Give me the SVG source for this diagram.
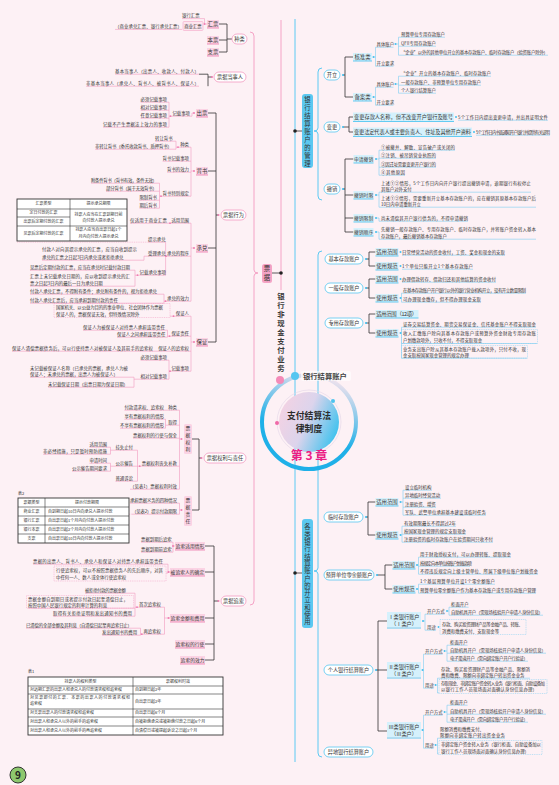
<svg xmlns="http://www.w3.org/2000/svg" width="559" height="785" viewBox="0 0 559 785">
<defs>
<style>
text{font-family:"Noto Sans CJK SC","Noto Sans",sans-serif;fill:#333}
.s{font-size:4.4px}
.m{font-size:4.8px}
.b{font-size:5.2px}
.n{font-size:5.4px}
.t{font-size:4px}
.c{text-anchor:middle}
.vt{writing-mode:vertical-rl}
.pk{fill:none;stroke:#f29ac0;stroke-width:.6}
.bl{fill:none;stroke:#7ccff2;stroke-width:.6}
.k{fill:none;stroke:#333;stroke-width:.8}
.pb{fill:#fff;stroke:#f29ac0;stroke-width:.8}
.pf{fill:#fbd3e4}
.bb{fill:#fff;stroke:#55c6f0;stroke-width:.8}
.bf{fill:#d5f1fc}
.pu{fill:none;stroke:#ee86b4;stroke-width:.9}
.bu{fill:none;stroke:#55c6f0;stroke-width:.9}
.pd{fill:#f07fb3}
.bd{fill:#45c0ee}
.kd{fill:#222}
.dp{fill:none;stroke:#f29ac0;stroke-width:.5;stroke-dasharray:1 .8}
.db{fill:none;stroke:#7ccff2;stroke-width:.5;stroke-dasharray:1 .8}
.tb{fill:#fff;stroke:#333;stroke-width:.9}
.tl{fill:none;stroke:#333;stroke-width:.6}
.v{font-size:7.4px;font-weight:bold;fill:#3a3a3a}
.w{font-size:6.4px;fill:#333}
</style>
<linearGradient id="ring" x1="0.6" y1="0" x2="0.4" y2="0.6">
<stop offset="0" stop-color="#ede1ed"/><stop offset="1" stop-color="#1fb0e8"/>
</linearGradient>
<linearGradient id="core" x1="0" y1="0.3" x2="1" y2="0.7">
<stop offset="0" stop-color="#f3d2e3"/><stop offset="0.45" stop-color="#dcd4ec"/><stop offset="1" stop-color="#38c1ee"/>
</linearGradient>
</defs>
<rect width="559" height="785" fill="#fdf1f5"/>

<g id="connectors">
<path d="M281,20 V290" fill="none" stroke="#f5a3c6" stroke-width="1"/>
<path d="M295,19 V762" fill="none" stroke="#5ccaf3" stroke-width="1"/>
<path d="M250,32 Q254,32 254,36 V270 Q254,273 258,273 Q254,273 254,276 V601 Q254,605 250,605" fill="none" stroke="#f5a3c6" stroke-width="1"/>
<path d="M322,68 Q318,68 318,72 V128 Q318,131 314,131 Q318,131 318,134 V196 Q318,200 322,200" fill="none" stroke="#5ccaf3" stroke-width="1"/>
<path d="M322,251 Q318,251 318,255 V568 Q318,571 314,571 Q318,571 318,574 V753 Q318,757 322,757" fill="none" stroke="#5ccaf3" stroke-width="1"/>
<path class="k" d="M272,273 H281 M295,131 H302 M295,573 H302"/>
<circle class="kd" cx="281" cy="273" r="1.8"/>
<circle class="kd" cx="295" cy="131" r="1.8"/>
<circle class="kd" cx="295" cy="573" r="1.8"/>
<path class="k" d="M219,24 H227 V52 H219 M219,40 H227 M227,39 H232 M199,74.2 H208 V86.2 M208,77 H212 M208,113 H216 V342 H208 M208,171 H216 M208,248 H216 M216,215 H218.5 M192,439 H199 V510 H192 M199,458 H201.5 M205,546 H214 V660 H205 M205,572 H214 M205,618 H214 M205,644 H214 M214,601 H218.5"/>
<path class="k" d="M343,75 H345 M354,57 H345 V97 H354 M343,127 H349 M353,117 H349 V132 H353 M343,189 H345 M353.5,159 H345 V232 H353.5 M345,195 H353.5 M345,218 H353.5 M366,259 H369 M375.5,252 H369 V266 H375.5 M366,288 H369 M375.5,279 H369 V298 H375.5 M366,323 H369 M375.5,314 H369 V333 H375.5 M366,517 H368 M375.5,502 H368 V535 H375.5 M377,575 H385 M392.5,565 H385 V589 H392.5 M376,670 H378 M387,621 H378 V731 H387 M378,670 H387"/>
<path class="pk" d="M182,18.6 H199 M115,29.4 H182 M199,18.6 H204.5 V24 H207 M115,74.2 H199 M86,86.2 H199 M172.4,116.2 H192 V113 H194 M140.6,102.2 H169 V127.2 H103 M140.6,110.2 H169 M140.6,118.2 H169 M169,116.2 H172.4 M180.2,147.2 H191 M162.6,161.2 H191 M167,172.2 H191 M162.6,196.2 H191 M191,147.2 V196.2 M191,171 H194 M155,141.2 H176 V149.2 H95 M176,147.2 H180.2 M91,183.2 H159.5 V208.2 H139.4 M106,191.2 H159.5 M139.4,200.2 H159.5 M159.5,196.2 H162.6 M171.4,223.2 H191 V301.2 H167 M167,256.2 H191 M191,248 H194 M130,223.2 H171.4 M148,242.2 H165.6 V275.2 H139.6 M148,256.2 H167 M42,260.2 H144 V256.2 H148 M30,270.2 H135 V286.2 H30 M135,275.2 H139.6 M30,294.2 H164 V303.2 H30 M164,301.2 H167 M175.8,316.2 H191 V371.2 H171.4 M171.4,336.2 H191 M158.2,351.2 H191 M191,342 H194 M170,316.2 H175.8 M83,330.2 H167.5 V337.2 H117 M167.5,336.2 H171.4 M12,351.2 H158.2 M140.6,360.2 H169 V379.2 H140.6 M169,371.2 H171.4 M30,377.2 H134 V387.2 H48 M134,379.2 H140.6 M168.2,410.2 H179.5 V489.2 H130 M168.2,425.2 H179.5 M133,438.2 H179.5 M141.8,466.2 H179.5 M179.5,439 H181.5 M124.4,410.2 H168.2 M124.4,419.2 H165.5 V428.2 H120 M165.5,425.2 H168.2 M115.4,450.2 H137.5 V481.2 H115.4 M115.4,466.2 H141.8 M89.4,447.2 H110.5 V454.2 H43 M110.5,450.2 H115.4 M89.4,463.2 H110.5 V471.2 H72 M110.5,466.2 H115.4 M130,503.2 H179.5 V514.2 H132 M179.5,510 H181.5 M141,542.2 H173 V552.2 H141 M173,546 H175 M33,564.2 H168 V573 H166 M168,572 H170.4 M139,607.2 H164.5 V634.2 H143.4 M164.5,618 H170.4 M85,593.2 H135 V616.2 H53 M28,608.2 H135 M135,607.2 H139 M26,628.2 H140.5 V635.2 H102 M140.5,634.2 H143.4"/>
<path class="dp" d="M17,242.2 H148 M129,514.2 H132"/>
<path class="bl" d="M393.5,47.2 H375.5 V66.2 H393.5 M373.5,57 H375.5 M445,37.2 H398.5 V55.2 H548 M398.5,46.2 H436 M395.5,44 H398.5 M393.5,87.2 H375.5 V105.2 H393.5 M373.5,97 H375.5 M491,76.2 H398.5 V93.2 H436 M398.5,85.2 H481 M395.5,84 H398.5 M458,120.2 H548 M476,135.2 H550 M455,150.2 H379 V175.2 H405 M379,158.2 H436 M379,167.2 H436 M376,159 H379 M531,192.2 H379 V207.2 H536 M376,195 H379 M379,221.2 H468 M376,218 H379 V221.2 M379,239.2 H536 M376,232 H379 V239.2 M402,255.2 H505 M402,269.2 H473 M402,282.2 H496 M526,293.2 H401.5 V302.2 H481 M400.5,298 H401.5 M536,327.2 H401.5 V358.2 H527 M401.5,343.5 H537 M400.5,333 H401.5 M432,490.2 H403 V515.2 H486 M403,498.2 H441 M403,507.2 H436 M400.5,502 H403 M456,526.2 H402 V542.2 H493 M402,534.2 H466 M400.5,535 H402 M511,557.2 H418.5 V574.2 H538 M418.5,566.2 H470 M417,565 H418.5 M495,584.2 H418.5 V593.2 H536 M417,589 H418.5 M444.6,614.2 H425 V630.2 H436 M423,621 H425 M468.6,607.2 H449 V615.2 H543 M447,611 H449 M442.6,654.2 H423.5 V688.2 H433.8 M422.5,670 H423.5 M467.6,645.2 H447 V661.2 H528 M447,653.2 H546 M444.5,651 H447 M530,678.2 H437.5 V693 H439 M437.5,685 H435.5 M442.6,715.2 H423.5 V748.2 H433.8 M422.5,730 H423.5 M467.6,705.2 H447 V722.2 H528 M447,714.2 H546 M444.5,712 H447 M505,738.2 H437.5 V754 H439 M437.5,745 H435.5"/>
</g>

<g id="center">
<circle cx="309" cy="422" r="47" fill="none" stroke="url(#ring)" stroke-width="4"/>
<circle cx="309" cy="422" r="32" fill="none" stroke="#e2d5e8" stroke-width=".6"/>
<circle cx="309" cy="422" r="30" fill="url(#core)"/>
<circle cx="277" cy="423" r="2" fill="#f06aa8"/>
<circle cx="333" cy="401" r="2" fill="#4cc3ee"/>
<text x="309" y="419" class="c" style="font-size:8.8px;font-weight:bold;fill:#2b2b2b">支付结算法<tspan x="309" dy="12.8">律制度</tspan></text>
<text x="309" y="460" class="c" style="font-size:12px;font-weight:bold;fill:#ec1c84">第 3 章</text>
<circle cx="280" cy="380" r="4" fill="#f48ab8"/>
<circle cx="295" cy="376" r="4" fill="#55c6f0"/>
<rect x="301" y="371" width="50" height="10" rx="2" fill="#fff" opacity=".6"/>
<text x="303" y="378.6" style="font-size:7.3px;font-weight:bold;fill:#444">银行结算账户</text>
</g>

<g id="n-feixianjin">
<text class="v vt" x="281" y="292.3" style="letter-spacing:1.6px">银行非现金支付业务</text>
</g>
<g id="n-piaoju">
<rect x="262" y="264" width="10" height="19" rx="2.5" fill="#f5a3c5"/>
<text class="w vt" x="267" y="265.8" style="letter-spacing:2.6px">票据</text>
</g>
<g id="n-guanli">
<rect x="302" y="94" width="11" height="74" rx="3" fill="#5cc8f0"/>
<text class="w vt" x="307.5" y="96.8" style="letter-spacing:1.6px">银行结算账户的管理</text>
</g>
<g id="n-kaili-shiyong">
<rect x="302" y="519" width="11" height="109" rx="3" fill="#5cc8f0"/>
<text class="w vt" x="307.5" y="523.8" style="letter-spacing:0.9px">各类银行结算账户的开立和使用</text>
</g>

<g id="n-zhonglei">
<rect class="pb" x="232" y="34" width="15" height="10" rx="5"/>
<text class="b c" x="239.5" y="40.9">种类</text>
<rect class="pf" x="207" y="20" width="12" height="8"/><path class="pu" d="M207,28 H219"/><text class="n" x="207.6" y="25.9">汇票</text>
<rect class="pf" x="207" y="36" width="12" height="8"/><path class="pu" d="M207,44 H219"/><text class="n" x="207.6" y="41.9">本票</text>
<rect class="pf" x="207" y="48" width="12" height="8"/><path class="pu" d="M207,56 H219"/><text class="n" x="207.6" y="53.9">支票</text>
<circle class="pd" cx="204.5" cy="24" r="1"/>
<text class="s" x="182" y="16.6">银行汇票</text>
<text class="s" x="115" y="27.6" textLength="67">（商业承兑汇票、银行承兑汇票）</text>
<rect x="183" y="21.5" width="20" height="9" rx="1" fill="#fde6ef" stroke="#f29ac0" stroke-width=".5"/>
<text class="s" x="184.2" y="27.6">商业汇票</text>
</g>

<g id="n-dangshiren">
<rect class="pb" x="214" y="72" width="32" height="10" rx="5"/>
<text class="b c" x="230" y="78.9">票据当事人</text>
<circle class="pd" cx="212" cy="77" r="1"/>
<text class="s" x="115" y="72.6" textLength="84">基本当事人（出票人、收款人、付款人）</text>
<text class="s" x="86" y="84.6" textLength="113">非基本当事人（承兑人、背书人、被背书人、保证人）</text>
</g>

<g id="n-xingwei">
<rect class="pb" x="221" y="210" width="25" height="10" rx="5"/>
<text class="b c" x="233.5" y="216.9">票据行为</text>
<circle class="pd" cx="218.5" cy="215" r="1"/>
<rect class="pf" x="196" y="109" width="12" height="8"/><path class="pu" d="M196,117 H208"/><text class="n" x="196.6" y="114.9">出票</text>
<rect class="pf" x="196" y="167" width="12" height="8"/><path class="pu" d="M196,175 H208"/><text class="n" x="196.6" y="172.9">背书</text>
<rect class="pf" x="196" y="244" width="12" height="8"/><path class="pu" d="M196,252 H208"/><text class="n" x="196.6" y="249.9">承兑</text>
<rect class="pf" x="196" y="338" width="12" height="8"/><path class="pu" d="M196,346 H208"/><text class="n" x="196.6" y="343.9">保证</text>
<circle class="pd" cx="194" cy="113" r="1"/><circle class="pd" cx="194" cy="171" r="1"/><circle class="pd" cx="194" cy="248" r="1"/><circle class="pd" cx="194" cy="342" r="1"/>
</g>

<g id="leaf-chupiao">
<text class="s" x="172.4" y="114.6">记载事项</text>
<circle class="pd" cx="170.5" cy="116.2" r=".9"/>
<text class="s" x="140.6" y="100.6">必须记载事项</text>
<text class="s" x="140.6" y="108.6">相对记载事项</text>
<text class="s" x="140.6" y="116.6">任意记载事项</text>
<text class="s" x="103" y="125.6" textLength="64">记载不产生票据法上效力的事项</text>
</g>

<g id="leaf-beishu">
<text class="s" x="180.2" y="145.6">种类</text>
<text class="s" x="162.6" y="159.6">背书记载事项</text>
<text class="s" x="167" y="170.6">背书的效力</text>
<text class="s" x="162.6" y="194.6">背书特别规定</text>
<circle class="pd" cx="178" cy="147.2" r=".9"/><circle class="pd" cx="161" cy="196.2" r=".9"/>
<text class="s" x="155" y="139.6">转让背书</text>
<text class="s" x="95" y="147.6" textLength="77">非转让背书（委托收款背书、质押背书）</text>
<text class="s" x="91" y="181.6" textLength="66">附条件背书（背书有效，条件无效）</text>
<text class="s" x="106" y="189.6" textLength="51">部分背书（属于无效背书）</text>
<text class="s" x="139.4" y="198.6">限制背书</text>
<text class="s" x="139.4" y="206.6">期后背书</text>
</g>

<g id="table-chengdui">
<rect class="tb" x="17" y="199" width="110" height="42"/>
<path class="tl" d="M70,199 V241 M17,209 H127 M17,217 H70 M17,226 H127"/>
<text class="t c" x="43.5" y="205.4">汇票类型</text>
<text class="t c" x="98.5" y="205.4">提示承兑期限</text>
<text class="t c" x="43.5" y="214.4">定日付款的汇票</text>
<text class="t c" x="43.5" y="222.9">出票后定期付款的汇票</text>
<text class="t c" x="98.5" y="216">持票人应当在汇票到期日前<tspan x="98.5" dy="6">向付款人提示承兑</tspan></text>
<text class="t c" x="43.5" y="234.9">见票后定期付款的汇票</text>
<text class="t c" x="98.5" y="231.4">持票人应当自出票日起1个<tspan x="98.5" dy="6.6">月内向付款人提示承兑</tspan></text>
</g>

<g id="leaf-chengdui">
<text class="s" x="171.4" y="221.6">适用范围</text>
<text class="s" x="167" y="254.6">承兑的程序</text>
<text class="s" x="167" y="299.6">承兑的效力</text>
<circle class="pd" cx="170" cy="223.2" r=".9"/><circle class="pd" cx="166" cy="256.2" r=".9"/><circle class="pd" cx="165.5" cy="301.2" r=".9"/>
<text class="s" x="130" y="221.6" textLength="37">仅适用于商业汇票</text>
<text class="s" x="148" y="240.6">提示承兑</text>
<text class="s" x="148" y="254.6">受理承兑</text>
<text class="s" x="139.6" y="273.6">记载承兑事项</text>
<circle class="pd" cx="137.5" cy="275.2" r=".9"/>
<text class="s" x="42" y="250.6"><tspan textLength="95">付款人对向其提示承兑的汇票，应当自收到提示</tspan><tspan x="42" dy="8">承兑的汇票之日起3日内承兑或者拒绝承兑</tspan></text>
<text class="s" x="30" y="268.6" textLength="100">见票后定期付款的汇票，应当在承兑时记载付款日期</text>
<text class="s" x="30" y="277.6"><tspan textLength="100">汇票上未记载承兑日期的，应以收到提示承兑的汇</tspan><tspan x="30" dy="7">票之日起3日内的最后一日为承兑日期</tspan></text>
<text class="s" x="30" y="292.6" textLength="127">付款人承兑汇票，不得附有条件；承兑附有条件的，视为拒绝承兑</text>
<text class="s" x="30" y="301.6">付款人承兑汇票后，应当承担到期付款的责任</text>
</g>

<g id="leaf-baozheng">
<text class="s" x="175.8" y="314.6">保证人</text>
<text class="s" x="171.4" y="334.6">保证责任</text>
<text class="s" x="158.2" y="349.6">保证人的追索权</text>
<text class="s" x="171.4" y="369.6">记载事项</text>
<circle class="pd" cx="173.5" cy="316.2" r=".9"/><circle class="pd" cx="169.5" cy="336.2" r=".9"/><circle class="pd" cx="170" cy="371.2" r=".9"/>
<rect class="dp" x="54" y="303.5" width="116" height="14"/>
<text class="s" x="56" y="309.1"><tspan textLength="107">国家机关、以公益为目的的事业单位、社会团体作为票据</tspan><tspan x="56" dy="6.5">保证人的，票据保证无效，但特殊情况除外</tspan></text>
<text class="s" x="83" y="328.6" textLength="82">保证人为被保证人对持票人承担连带责任</text>
<text class="s" x="117" y="335.6">保证人之间承担连带责任</text>
<text class="s" x="12" y="349.6" textLength="141">保证人清偿票据债务后，可以行使持票人对被保证人及其前手的追索权</text>
<text class="s" x="140.6" y="358.6">必须记载事项</text>
<text class="s" x="140.6" y="377.6">相对记载事项</text>
<text class="s" x="30" y="369.6"><tspan textLength="98">未记载被保证人名称（已承兑的票据，承兑人为被</tspan><tspan x="30" dy="6">保证人；未承兑的票据，出票人为被保证人）</tspan></text>
<text class="s" x="48" y="385.6" textLength="80">未记载保证日期（出票日期为保证日期）</text>
</g>

<g id="n-quanli-zeren">
<rect class="pb" x="204" y="453" width="42" height="10" rx="5"/>
<text class="b c" x="225" y="459.9">票据权利与责任</text>
<circle class="pd" cx="201.5" cy="458" r="1"/>
<rect class="pf" x="184" y="424" width="8" height="30" rx="1.5"/>
<text class="m vt" x="188" y="425.6" style="letter-spacing:2.2px">票据权利</text>
<rect class="pf" x="184" y="496" width="8" height="30" rx="1.5"/>
<text class="m vt" x="188" y="497.6" style="letter-spacing:2.2px">票据责任</text>
<circle class="pd" cx="181.5" cy="439" r="1"/><circle class="pd" cx="181.5" cy="510" r="1"/>
</g>

<g id="leaf-quanli">
<text class="s" x="168.2" y="408.6">种类</text>
<text class="s" x="168.2" y="423.6">取得</text>
<text class="s" x="133" y="436.6">票据权利的行使与保全</text>
<text class="s" x="141.8" y="464.6">票据权利丧失补救</text>
<text class="s" x="130" y="487.6" textLength="47">（见表1）票据权利时效</text>
<circle class="pd" cx="139.7" cy="466.2" r=".9"/>
<text class="s" x="124.4" y="408.6">付款请求权、追索权</text>
<text class="s" x="124.4" y="417.6">享有票据权利的情形</text>
<text class="s" x="120" y="426.6">不享有票据权利的情形</text>
<text class="s" x="115.4" y="448.6">挂失止付</text>
<text class="s" x="115.4" y="464.6">公示催告</text>
<text class="s" x="115.4" y="479.6">普通诉讼</text>
<text class="s" x="89.4" y="445.6">适用范围</text>
<text class="s" x="43" y="452.6" textLength="64">非必经措施，只是暂时预防措施</text>
<text class="s" x="89.4" y="461.6">申请时间</text>
<text class="s" x="72" y="469.6">公示催告期间要求</text>
</g>

<g id="leaf-zeren">
<text class="s" x="130" y="501.6" textLength="47">承担票据义务的四种情况</text>
<text class="s" x="132" y="512.6" textLength="45">（见表2）提示付款期限</text>
</g>

<g id="table-2">
<text class="t" x="18" y="495.4">表2</text>
<rect class="tb" x="18" y="498" width="111" height="45"/>
<path class="tl" d="M45,498 V543 M18,507 H129 M18,516 H129 M18,525 H129 M18,534 H129"/>
<text class="t c" x="31.5" y="503.9">票据类型</text>
<text class="t c" x="87" y="503.9">提示付款期限</text>
<text class="t c" x="31.5" y="512.9">商业汇票</text>
<text class="t c" x="31.5" y="521.9">银行汇票</text>
<text class="t c" x="31.5" y="530.9">银行本票</text>
<text class="t c" x="31.5" y="539.9">支票</text>
<text class="t" x="48" y="512.9">自到期日起10日内向承兑人提示付款</text>
<text class="t" x="48" y="521.9">自出票日起1个月内向付款人提示付款</text>
<text class="t" x="48" y="530.9">自出票日起2个月内向付款人提示付款</text>
<text class="t" x="48" y="539.9">自出票日起10日内向付款人提示付款</text>
</g>

<g id="n-zhuisuo">
<rect class="pb" x="221" y="596" width="25" height="10" rx="5"/>
<text class="b c" x="233.5" y="602.9">票据追索</text>
<circle class="pd" cx="218.5" cy="601" r="1"/>
<rect class="pf" x="175" y="542" width="30" height="8"/><path class="pu" d="M175,550 H205"/><text class="m" x="175.6" y="547.7">追索适用情形</text>
<rect class="pf" x="170" y="568" width="35" height="8"/><path class="pu" d="M170,576 H205"/><text class="m" x="170.6" y="573.7">被追索人的确定</text>
<rect class="pf" x="170" y="614" width="35" height="8"/><path class="pu" d="M170,622 H205"/><text class="m" x="170.6" y="619.7">追索金额和费用</text>
<rect class="pf" x="175" y="640" width="30" height="8"/><path class="pu" d="M175,648 H205"/><text class="m" x="175.6" y="645.7">追索权的行使</text>
<rect class="pf" x="180" y="656" width="25" height="8"/><path class="pu" d="M180,664 H205"/><text class="m" x="180.6" y="661.7">追索的效力</text>
<circle class="pd" cx="173" cy="546" r="1"/><circle class="pd" cx="168.5" cy="572" r="1"/><circle class="pd" cx="168.5" cy="618" r="1"/>
</g>

<g id="leaf-zhuisuo">
<text class="s" x="141" y="540.6">票据到期后追索</text>
<text class="s" x="141" y="550.6">票据到期前追索</text>
<text class="s" x="33" y="562.6" textLength="130">票据的出票人、背书人、承兑人和保证人对持票人承担连带责任</text>
<rect class="dp" x="54" y="566" width="112" height="15"/>
<text class="s" x="56" y="571.6"><tspan textLength="107">行使追索权，可以不按照票据债务人的先后顺序，对其</tspan><tspan x="56" dy="7">中任何一人、数人或全体行使追索权</tspan></text>
<text class="s" x="139" y="605.6">首次追索权</text>
<text class="s" x="143.4" y="632.6">再追索权</text>
<circle class="pd" cx="137" cy="607.2" r=".9"/><circle class="pd" cx="141.8" cy="634.2" r=".9"/>
<text class="s" x="85" y="591.6" textLength="41">被拒绝付款的票据金额</text>
<rect class="dp" x="26.5" y="595.5" width="107" height="12.7"/>
<text class="s" x="28" y="600.6"><tspan textLength="100">票据金额自到期日或者提示付款日起至清偿日止，</tspan><tspan x="28" dy="6">按照中国人民银行规定的利率计算的利息</tspan></text>
<text class="s" x="53" y="614.6" textLength="79">取得有关拒绝证明和发出通知书的费用</text>
<text class="s" x="26" y="626.6" textLength="106">已清偿的全部金额及其利息（自清偿日起至再追索日止）</text>
<text class="s" x="102" y="633.6">发出通知书的费用</text>
</g>

<g id="table-1">
<text class="t" x="28" y="673.4">表1</text>
<rect class="tb" x="28" y="677" width="195" height="58"/>
<path class="tl" d="M133,677 V735 M28,686 H223 M28,694 H223 M28,709 H223 M28,717 H223 M28,726 H223"/>
<text class="t c" x="80.5" y="683">持票人的权利类型</text>
<text class="t c" x="178" y="683">票据权利时效</text>
<text class="t" x="30" y="691.4">对远期汇票的出票人和承兑人的付款请求权和追索权</text>
<text class="t" x="30" y="699.4"><tspan textLength="100">对见票即付的汇票、本票的出票人的付款请求权和</tspan><tspan x="30" dy="6">追索权</tspan></text>
<text class="t" x="30" y="714.4">对支票出票人的付款请求权和追索权</text>
<text class="t" x="30" y="722.9">对出票人和承兑人以外的前手的追索权</text>
<text class="t" x="30" y="731.9">对出票人和承兑人以外的前手的再追索权</text>
<text class="t" x="135" y="691.4">自到期日起2年</text>
<text class="t" x="135" y="702.9">自出票日起2年</text>
<text class="t" x="135" y="714.4">自出票日起6个月</text>
<text class="t" x="135" y="722.9">自被拒绝承兑或被拒绝付款之日起6个月</text>
<text class="t" x="135" y="731.9">自清偿日或被提起诉讼之日起3个月</text>
</g>

<g id="page-badge">
<circle cx="18" cy="775" r="8" fill="#8dc86e" stroke="#333" stroke-width="1"/>
<text x="18" y="778.6" class="c" style="font-size:10px;font-weight:bold;fill:#222">9</text>
</g>

<g id="n-kaili">
<rect class="bb" x="324" y="70" width="16" height="10" rx="5"/>
<text class="b c" x="332" y="76.8">开立</text>
<circle class="bd" cx="343" cy="75" r="1.1"/>
<rect class="bf" x="353" y="53" width="19" height="8"/><path class="bu" d="M353,61 H372"/><text class="n" x="354.4" y="58.9">核准类</text>
<rect class="bf" x="353" y="93" width="19" height="8"/><path class="bu" d="M353,101 H372"/><text class="n" x="354.4" y="98.9">备案类</text>
<circle class="bd" cx="373.5" cy="57" r="1"/><circle class="bd" cx="373.5" cy="97" r="1"/>
<circle class="bd" cx="395.5" cy="44" r="1"/><circle class="bd" cx="395.5" cy="84" r="1"/>
<text class="s" x="376.5" y="45.6">具体账户</text>
<text class="s" x="376.5" y="64.6">开立要求</text>
<text class="s" x="401" y="35.6" textLength="44">预算单位专用存款账户</text>
<text class="s" x="401" y="44.6" textLength="35">QFII专用存款账户</text>
<text class="s" x="401" y="53.6" textLength="147">“企业”以外的其他单位开立的基本存款账户、临时存款账户（验资账户除外）</text>
<text class="s" x="376.5" y="85.6">具体账户</text>
<text class="s" x="376.5" y="103.6">开立要求</text>
<text class="s" x="401" y="74.6" textLength="90">“企业”开立的基本存款账户、临时存款账户</text>
<text class="s" x="401" y="83.6" textLength="80">一般存款账户、非预算单位专用存款账户</text>
<text class="s" x="401" y="91.6" textLength="35">个人银行结算账户</text>
</g>

<g id="n-biangeng">
<rect class="bb" x="324" y="122" width="16" height="10" rx="5"/>
<text class="b c" x="332" y="128.8">变更</text>
<circle class="bd" cx="343" cy="127" r="1.1"/>
<rect class="bf" x="353" y="112.5" width="101" height="9"/><path class="bu" d="M353,121.5 H454"/>
<text class="b" x="354" y="118.9" textLength="99">变更存款人名称，但不改变开户银行及账号</text>
<rect class="bf" x="353" y="127.5" width="119" height="9"/><path class="bu" d="M353,136.5 H472"/>
<text class="b" x="354" y="133.9" textLength="117">变更法定代表人或主要负责人、住址及其他开户资料</text>
<circle class="bd" cx="456" cy="117" r="1"/><circle class="bd" cx="474" cy="132" r="1"/>
<text class="s" x="458" y="118.6" textLength="90">5个工作日内提出变更申请，并出具证明文件</text>
<text class="s" x="476" y="133.6" textLength="74">5个工作日内书面通知开户银行并提供有关证明</text>
</g>

<g id="n-chexiao">
<rect class="bb" x="324" y="184" width="16" height="10" rx="5"/>
<text class="b c" x="332" y="190.8">撤销</text>
<circle class="bd" cx="343" cy="189" r="1.1"/>
<rect class="bf" x="353.5" y="155" width="20" height="8"/><path class="bu" d="M353.5,163 H373.5"/><text class="m" x="354" y="160.7">申请撤销</text>
<rect class="bf" x="353.5" y="191" width="20" height="8"/><path class="bu" d="M353.5,199 H373.5"/><text class="m" x="354" y="196.7">撤销时限</text>
<rect class="bf" x="353.5" y="214" width="20" height="8"/><path class="bu" d="M353.5,222 H373.5"/><text class="m" x="354" y="219.7">撤销限制</text>
<rect class="bf" x="353.5" y="228" width="20" height="8"/><path class="bu" d="M353.5,236 H373.5"/><text class="m" x="354" y="233.7">撤销顺序</text>
<circle class="bd" cx="376" cy="159" r="1"/><circle class="bd" cx="376" cy="195" r="1"/><circle class="bd" cx="376" cy="218" r="1"/><circle class="bd" cx="376" cy="232" r="1"/>
<text class="s" x="381" y="148.6" textLength="74">①被撤并、解散、宣告破产或关闭的</text>
<text class="s" x="381" y="156.6" textLength="55">②注销、被吊销营业执照的</text>
<text class="s" x="381" y="165.6" textLength="55">③因迁址需要变更开户银行的</text>
<text class="s" x="381" y="173.6" textLength="24">④其他原因</text>
<text class="s" x="381" y="184.6"><tspan textLength="150">上述①②情形，5个工作日内向开户银行提出撤销申请，逾期银行有权停止</tspan><tspan x="381" dy="6">其账户对外支付</tspan></text>
<text class="s" x="381" y="199.6"><tspan textLength="155">上述①②情形，需要重新开立基本存款账户的，应在撤销其原基本存款账户后</tspan><tspan x="381" dy="6">10日内申请重新开立</tspan></text>
<text class="s" x="381" y="219.6" textLength="87">尚未清偿其开户银行债务的，不得申请撤销</text>
<text class="s" x="381" y="230.6"><tspan textLength="155">先撤销一般存款账户、专用存款账户、临时存款账户，并将账户资金转入基本</tspan><tspan x="381" dy="7">存款账户，最后撤销基本存款账户</tspan></text>
</g>

<g id="n-jiben">
<rect class="bb" x="325" y="254" width="38" height="10" rx="5"/>
<text class="b c" x="344" y="260.8">基本存款账户</text>
<circle class="bd" cx="366" cy="259" r="1.1"/>
<rect class="bf" x="375.5" y="248" width="23" height="8"/><path class="bu" d="M375.5,256 H398.5"/><text class="n" x="376.2" y="253.9">适用范围</text>
<rect class="bf" x="375.5" y="262" width="23" height="8"/><path class="bu" d="M375.5,270 H398.5"/><text class="n" x="376.2" y="267.9">使用规范</text>
<circle class="bd" cx="400.5" cy="252" r="1"/><circle class="bd" cx="400.5" cy="266" r="1"/>
<text class="s" x="402" y="253.6" textLength="103">日常经营活动的资金收付，工资、奖金和现金的支取</text>
<text class="s" x="402" y="267.6" textLength="71">1个单位只能开立1个基本存款账户</text>
</g>

<g id="n-yiban">
<rect class="bb" x="325" y="283" width="38" height="10" rx="5"/>
<text class="b c" x="344" y="289.8">一般存款账户</text>
<circle class="bd" cx="366" cy="288" r="1.1"/>
<rect class="bf" x="375.5" y="275" width="23" height="8"/><path class="bu" d="M375.5,283 H398.5"/><text class="n" x="376.2" y="280.9">适用范围</text>
<rect class="bf" x="375.5" y="294" width="23" height="8"/><path class="bu" d="M375.5,302 H398.5"/><text class="n" x="376.2" y="299.9">使用规范</text>
<circle class="bd" cx="400.5" cy="279" r="1"/><circle class="bd" cx="400.5" cy="298" r="1"/>
<text class="s" x="402" y="280.6" textLength="94">办理借款转存、借款归还和其他结算的资金收付</text>
<text class="s" x="403" y="291.6" textLength="123">在基本存款账户开户银行以外的银行营业机构开立，没有开立数量限制</text>
<text class="s" x="403" y="300.6" textLength="78">可办理现金缴存，但不得办理现金支取</text>
</g>

<g id="n-zhuanyong">
<rect class="bb" x="325" y="318" width="38" height="10" rx="5"/>
<text class="b c" x="344" y="324.8">专用存款账户</text>
<circle class="bd" cx="366" cy="323" r="1.1"/>
<rect class="bf" x="375.5" y="310" width="43" height="8"/><path class="bu" d="M375.5,318 H418.5"/><text class="n" x="376.2" y="315.9" textLength="41">适用范围（12项）</text>
<rect class="bf" x="375.5" y="329" width="23" height="8"/><path class="bu" d="M375.5,337 H398.5"/><text class="n" x="376.2" y="334.9">使用规范</text>
<circle class="bd" cx="400.5" cy="333" r="1"/>
<text class="s" x="403" y="325.6" textLength="133">证券交易结算资金、期货交易保证金、信托基金账户不得支取现金</text>
<rect class="db" x="401.5" y="329.5" width="136" height="14"/>
<text class="s" x="403" y="334.6"><tspan textLength="133">收入汇缴账户除向其基本存款账户或预算外资金财政专用存款账</tspan><tspan x="403" dy="7">户划缴款项外，只收不付，不得支取现金</tspan></text>
<rect class="db" x="401.5" y="345.5" width="126" height="12.7"/>
<text class="s" x="403" y="350.6"><tspan textLength="123">业务支出账户除从其基本存款账户拨入款项外，只付不收，现</tspan><tspan x="403" dy="6">金支取按国家现金管理的规定办理</tspan></text>
</g>

<g id="n-linshi">
<rect class="bb" x="324" y="512" width="39" height="10" rx="5"/>
<text class="b c" x="343.5" y="518.8">临时存款账户</text>
<circle class="bd" cx="366" cy="517" r="1.1"/>
<rect class="bf" x="375.5" y="498" width="23" height="8"/><path class="bu" d="M375.5,506 H398.5"/><text class="n" x="376.2" y="503.9">适用范围</text>
<rect class="bf" x="375.5" y="531" width="23" height="8"/><path class="bu" d="M375.5,539 H398.5"/><text class="n" x="376.2" y="536.9">使用规范</text>
<circle class="bd" cx="400.5" cy="502" r="1"/><circle class="bd" cx="400.5" cy="535" r="1"/>
<text class="s" x="405" y="488.6">设立临时机构</text>
<text class="s" x="405" y="496.6">异地临时经营活动</text>
<text class="s" x="405" y="505.6">注册验资、增资</text>
<text class="s" x="405" y="513.6" textLength="81">军队、武警单位承担基本建设或临时任务</text>
<text class="s" x="404" y="524.6" textLength="52">有效期限最长不得超过2年</text>
<text class="s" x="404" y="532.6" textLength="62">按国家现金管理的规定支取现金</text>
<text class="s" x="404" y="540.6" textLength="89">注册验资的临时存款账户在验资期间只收不付</text>
</g>

<g id="n-lingyue">
<rect class="bb" x="324" y="570" width="50" height="10" rx="5"/>
<text class="b c" x="349" y="576.8">预算单位零余额账户</text>
<circle class="bd" cx="377" cy="575" r="1.1"/>
<rect class="bf" x="392.5" y="561" width="23" height="8"/><path class="bu" d="M392.5,569 H415.5"/><text class="n" x="393.2" y="566.9">适用范围</text>
<rect class="bf" x="392.5" y="585" width="23" height="8"/><path class="bu" d="M392.5,593 H415.5"/><text class="n" x="393.2" y="590.9">使用规范</text>
<circle class="bd" cx="417" cy="565" r="1"/><circle class="bd" cx="417" cy="589" r="1"/>
<text class="s" x="420" y="555.6" textLength="91">用于财政授权支付，可以办理转账、提取现金</text>
<text class="s" x="420" y="564.6" textLength="52">按规定向本单位按账户划拨款项</text>
<text class="s" x="420" y="572.6" textLength="118">不得违反规定向上级主管单位、所属下级单位账户划拨资金</text>
<text class="s" x="420" y="582.6" textLength="75">1个基层预算单位开设1个零余额账户</text>
<text class="s" x="420" y="591.6" textLength="116">预算单位零余额账户作为基本存款账户或专用存款账户管理</text>
</g>

<g id="n-geren">
<rect class="bb" x="324" y="665" width="49" height="10" rx="5"/>
<text class="b c" x="348.5" y="671.8">个人银行结算账户</text>
<circle class="bd" cx="376" cy="670" r="1.1"/>
<rect class="bf" x="387" y="612" width="34" height="15"/><path class="bu" d="M387,628 H421"/>
<text class="b c" x="404" y="618.9">Ⅰ类银行账户<tspan x="404" dy="7">（Ⅰ类户）</tspan></text>
<rect class="bf" x="387" y="662" width="34" height="15"/><path class="bu" d="M387,678 H421"/>
<text class="b c" x="404" y="668.9">Ⅱ类银行账户<tspan x="404" dy="7">（Ⅱ类户）</tspan></text>
<rect class="bf" x="387" y="722" width="34" height="15"/><path class="bu" d="M387,738 H421"/>
<text class="b c" x="404" y="728.9">Ⅲ类银行账户<tspan x="404" dy="7">（Ⅲ类户）</tspan></text>
<circle class="bd" cx="423" cy="621" r="1"/><circle class="bd" cx="422.5" cy="670" r="1"/><circle class="bd" cx="422.5" cy="730" r="1"/>
<text class="s" x="427" y="612.6">开户方式</text>
<text class="s" x="427" y="628.6">用途</text>
<circle class="bd" cx="447" cy="611" r=".9"/><circle class="bd" cx="438.5" cy="627" r=".9"/>
<text class="s" x="451" y="605.6">柜面开户</text>
<text class="s" x="451" y="613.6" textLength="92">自助机具开户（需现场核验开户申请人身份信息）</text>
<rect class="db" x="440" y="619.5" width="86" height="15"/>
<text class="s" x="442" y="625.6"><tspan textLength="81">存款、购买投资理财产品等金融产品、转账、</tspan><tspan x="442" dy="7">消费和缴费支付、支取现金等</tspan></text>
<text class="s" x="425" y="652.6">开户方式</text>
<text class="s" x="425" y="686.6">用途</text>
<circle class="bd" cx="444.5" cy="651" r=".9"/><circle class="bd" cx="435.5" cy="685" r=".9"/>
<text class="s" x="450" y="643.6">柜面开户</text>
<text class="s" x="450" y="651.6" textLength="96">自助机具开户（需现场核验开户申请人身份信息）</text>
<text class="s" x="450" y="659.6" textLength="78">电子渠道开户（需向绑定账户开户行验证）</text>
<text class="s" x="441" y="670.6"><tspan textLength="89">存款、购买投资理财产品等金融产品、限额消</tspan><tspan x="441" dy="6">费和缴费、限额向非绑定账户转出资金业务</tspan></text>
<rect class="db" x="439" y="679.5" width="108" height="14"/>
<text class="s" x="441" y="684.6"><tspan textLength="104">存取现金、非绑定账户资金转入业务（银行柜面、自助设备加</tspan><tspan x="441" dy="6" textLength="96">以银行工作人员现场面对面确认身份信息办理）</tspan></text>
<text class="s" x="425" y="713.6">开户方式</text>
<text class="s" x="425" y="746.6">用途</text>
<circle class="bd" cx="444.5" cy="712" r=".9"/><circle class="bd" cx="435.5" cy="745" r=".9"/>
<text class="s" x="450" y="703.6">柜面开户</text>
<text class="s" x="450" y="712.6" textLength="96">自助机具开户（需现场核验开户申请人身份信息）</text>
<text class="s" x="450" y="720.6" textLength="78">电子渠道开户（需向绑定账户开户行验证）</text>
<text class="s" x="440" y="730.6">限额消费和缴费支付、<tspan x="440" dy="6" textLength="65">限额向非绑定账户转出资金业务</tspan></text>
<rect class="db" x="439" y="740.5" width="103" height="14"/>
<text class="s" x="441" y="745.6"><tspan textLength="100">非绑定账户资金转入业务（银行柜面、自助设备加以</tspan><tspan x="441" dy="7" textLength="88">银行工作人员现场面对面确认身份信息办理）</tspan></text>
</g>

<g id="n-yidi">
<rect class="bb" x="324" y="747" width="49" height="10" rx="5"/>
<text class="b c" x="348.5" y="753.8">异地银行结算账户</text>
</g>
</svg>
